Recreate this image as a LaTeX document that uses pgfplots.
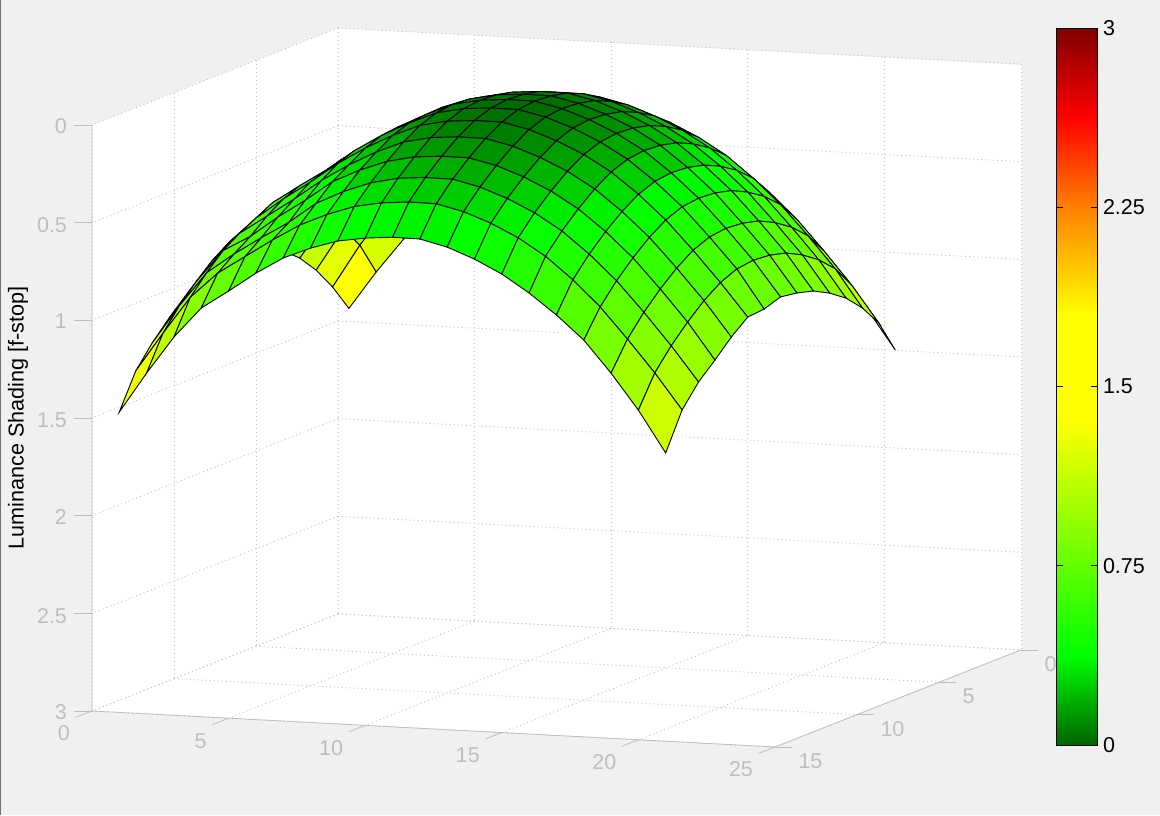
\documentclass[border=0pt]{standalone}
\usepackage{pgfplots}
\usepackage{fontspec}
\setmainfont{Liberation Sans}
\pgfplotsset{compat=1.18}
\definecolor{figbg}{RGB}{240,240,240}
\definecolor{axgray}{RGB}{190,190,190}
\pgfplotsset{colormap={shade}{rgb255(0)=(0,100,0); rgb255(375)=(0,255,0); rgb255(1350)=(255,255,0); rgb255(1800)=(255,255,0); rgb255(2250)=(255,128,0); rgb255(2625)=(255,0,0); rgb255(3000)=(128,0,0)}}
\pgfplotstableread[row sep=\\]{
x y z\\
1 1 1.395\\ 2 1 1.201\\ 3 1 1.026\\ 4 1 .881\\ 5 1 .785\\ 6 1 .696\\ 7 1 .608\\ 8 1 .538\\ 9 1 .483\\ 10 1 .452\\ 11 1 .440\\ 12 1 .442\\ 13 1 .475\\ 14 1 .529\\ 15 1 .597\\ 16 1 .686\\ 17 1 .801\\ 18 1 .935\\ 19 1 1.095\\ 20 1 1.265\\ 21 1 1.461\\
1 2 1.252\\ 2 2 1.030\\ 3 2 .845\\ 4 2 .757\\ 5 2 .665\\ 6 2 .569\\ 7 2 .464\\ 8 2 .395\\ 9 2 .342\\ 10 2 .312\\ 11 2 .300\\ 12 2 .302\\ 13 2 .334\\ 14 2 .386\\ 15 2 .453\\ 16 2 .539\\ 17 2 .651\\ 18 2 .781\\ 19 2 .937\\ 20 2 1.102\\ 21 2 1.290\\
1 3 1.133\\ 2 3 .914\\ 3 3 .732\\ 4 3 .648\\ 5 3 .558\\ 6 3 .464\\ 7 3 .361\\ 8 3 .293\\ 9 3 .241\\ 10 3 .211\\ 11 3 .200\\ 12 3 .201\\ 13 3 .233\\ 14 3 .284\\ 15 3 .350\\ 16 3 .434\\ 17 3 .544\\ 18 3 .672\\ 19 3 .824\\ 20 3 .986\\ 21 3 1.180\\
1 4 1.038\\ 2 4 .835\\ 3 4 .676\\ 4 4 .573\\ 5 4 .485\\ 6 4 .393\\ 7 4 .291\\ 8 4 .224\\ 9 4 .173\\ 10 4 .143\\ 11 4 .132\\ 12 4 .133\\ 13 4 .165\\ 14 4 .215\\ 15 4 .280\\ 16 4 .363\\ 17 4 .471\\ 18 4 .597\\ 19 4 .747\\ 20 4 .907\\ 21 4 1.096\\
1 5 .968\\ 2 5 .777\\ 3 5 .620\\ 4 5 .518\\ 5 5 .431\\ 6 5 .340\\ 7 5 .239\\ 8 5 .173\\ 9 5 .122\\ 10 5 .093\\ 11 5 .082\\ 12 5 .083\\ 13 5 .114\\ 14 5 .164\\ 15 5 .228\\ 16 5 .310\\ 17 5 .417\\ 18 5 .542\\ 19 5 .691\\ 20 5 .849\\ 21 5 1.037\\
1 6 .924\\ 2 6 .734\\ 3 6 .578\\ 4 6 .477\\ 5 6 .392\\ 6 6 .301\\ 7 6 .215\\ 8 6 .135\\ 9 6 .085\\ 10 6 .056\\ 11 6 .045\\ 12 6 .046\\ 13 6 .077\\ 14 6 .126\\ 15 6 .190\\ 16 6 .271\\ 17 6 .378\\ 18 6 .501\\ 19 6 .649\\ 20 6 .806\\ 21 6 .993\\
1 7 .901\\ 2 7 .712\\ 3 7 .557\\ 4 7 .457\\ 5 7 .371\\ 6 7 .281\\ 7 7 .195\\ 8 7 .116\\ 9 7 .066\\ 10 7 .037\\ 11 7 .026\\ 12 7 .027\\ 13 7 .058\\ 14 7 .107\\ 15 7 .170\\ 16 7 .251\\ 17 7 .357\\ 18 7 .480\\ 19 7 .628\\ 20 7 .784\\ 21 7 .970\\
1 8 .894\\ 2 8 .705\\ 3 8 .560\\ 4 8 .470\\ 5 8 .365\\ 6 8 .275\\ 7 8 .190\\ 8 8 .120\\ 9 8 .060\\ 10 8 .031\\ 11 8 .020\\ 12 8 .021\\ 13 8 .052\\ 14 8 .101\\ 15 8 .164\\ 16 8 .245\\ 17 8 .351\\ 18 8 .474\\ 19 8 .621\\ 20 8 .777\\ 21 8 .957\\
1 9 .905\\ 2 9 .716\\ 3 9 .575\\ 4 9 .480\\ 5 9 .390\\ 6 9 .286\\ 7 9 .200\\ 8 9 .130\\ 9 9 .070\\ 10 9 .041\\ 11 9 .030\\ 12 9 .031\\ 13 9 .062\\ 14 9 .111\\ 15 9 .175\\ 16 9 .256\\ 17 9 .362\\ 18 9 .485\\ 19 9 .632\\ 20 9 .788\\ 21 9 .986\\
1 10 .943\\ 2 10 .753\\ 3 10 .620\\ 4 10 .515\\ 5 10 .420\\ 6 10 .318\\ 7 10 .232\\ 8 10 .160\\ 9 10 .101\\ 10 10 .072\\ 11 10 .061\\ 12 10 .062\\ 13 10 .093\\ 14 10 .143\\ 15 10 .206\\ 16 10 .288\\ 17 10 .395\\ 18 10 .519\\ 19 10 .667\\ 20 10 .825\\ 21 10 .994\\
1 11 1.004\\ 2 11 .812\\ 3 11 .665\\ 4 11 .570\\ 5 11 .475\\ 6 11 .372\\ 7 11 .285\\ 8 11 .212\\ 9 11 .153\\ 10 11 .123\\ 11 11 .112\\ 12 11 .113\\ 13 11 .145\\ 14 11 .195\\ 15 11 .259\\ 16 11 .342\\ 17 11 .450\\ 18 11 .575\\ 19 11 .725\\ 20 11 .884\\ 21 11 1.063\\
1 12 1.084\\ 2 12 .889\\ 3 12 .720\\ 4 12 .640\\ 5 12 .534\\ 6 12 .441\\ 7 12 .338\\ 8 12 .271\\ 9 12 .219\\ 10 12 .189\\ 11 12 .178\\ 12 12 .179\\ 13 12 .211\\ 14 12 .262\\ 15 12 .327\\ 16 12 .411\\ 17 12 .520\\ 18 12 .647\\ 19 12 .799\\ 20 12 .961\\ 21 12 1.148\\
1 13 1.175\\ 2 13 .977\\ 3 13 .800\\ 4 13 .697\\ 5 13 .606\\ 6 13 .521\\ 7 13 .416\\ 8 13 .348\\ 9 13 .296\\ 10 13 .265\\ 11 13 .254\\ 12 13 .255\\ 13 13 .288\\ 14 13 .339\\ 15 13 .405\\ 16 13 .491\\ 17 13 .602\\ 18 13 .731\\ 19 13 .885\\ 20 13 1.049\\ 21 13 1.227\\
1 14 1.285\\ 2 14 1.084\\ 3 14 .893\\ 4 14 .762\\ 5 14 .670\\ 6 14 .578\\ 7 14 .494\\ 8 14 .432\\ 9 14 .384\\ 10 14 .358\\ 11 14 .346\\ 12 14 .348\\ 13 14 .381\\ 14 14 .433\\ 15 14 .500\\ 16 14 .587\\ 17 14 .700\\ 18 14 .832\\ 19 14 .989\\ 20 14 1.155\\ 21 14 1.337\\
1 15 1.462\\ 2 15 1.255\\ 3 15 1.063\\ 4 15 .907\\ 5 15 .813\\ 6 15 .714\\ 7 15 .629\\ 8 15 .571\\ 9 15 .527\\ 10 15 .505\\ 11 15 .493\\ 12 15 .495\\ 13 15 .529\\ 14 15 .583\\ 15 15 .652\\ 16 15 .742\\ 17 15 .847\\ 18 15 .968\\ 19 15 1.130\\ 20 15 1.312\\ 21 15 1.524\\
}\shading
\begin{document}
\begin{tikzpicture}
\useasboundingbox (0pt,0pt) rectangle (1160pt,-815pt);
\fill[figbg] (0pt,0pt) rectangle (1160pt,-815pt);
\fill[black!55] (0pt,0pt) rectangle (1.2pt,-815pt);
\fill[white] (92pt,-125pt) -- (338pt,-28pt) -- (1022pt,-65pt) -- (1022pt,-650pt) -- (775pt,-747pt) -- (92pt,-711pt) -- cycle;
\begin{axis}[
  at={(338pt,-28pt)}, anchor=origin,
  x={(27.32pt,-1.44pt)}, y={(-16.4pt,-6.47pt)}, z={(0pt,-195.3pt)},
  xmin=0, xmax=25, ymin=0, ymax=15, zmin=0, zmax=3,
  xtick={0,5,...,25}, ytick={0,5,...,15}, ztick={0,0.5,...,3},
  zticklabels={0,0.5,1,1.5,2,2.5,3},
  grid=major,
  grid style={axgray, dash pattern=on 1pt off 3pt, line width=0.8pt},
  axis line style={draw=none},
  tick style={draw=none},
  tick align=outside,
  major tick length=7pt,
  ticklabel style={text=axgray, font=\fontsize{21.5}{21.5}\selectfont},
  xticklabel style={anchor=east, xshift=-12pt, yshift=-20pt},
  yticklabel style={anchor=west, xshift=13pt, yshift=-14pt},
  zticklabel style={xshift=-15pt, yshift=3pt},
  /pgf/number format/assume math mode=true,
  zlabel={Luminance Shading [f-stop]},
  zlabel style={at={(axis cs:0,15,1.5)}, anchor=center, yshift=74pt, font=\fontsize{21.6}{21.6}\selectfont},
  clip=false,
  colormap name=shade,
  point meta min=0, point meta max=3,
]
\addplot3[surf, shader=flat corner, draw=black, line width=0.9pt, z buffer=none, mesh/cols=21] table[x=x, y=y, z=z] {\shading};
\draw[axgray, line width=0.8pt] (axis cs:0,15,0) -- (axis cs:0,15,3) -- (axis cs:25,15,3) -- (axis cs:25,0,3);
\pgfplotsinvokeforeach{0,5,...,25}{\draw[axgray, line width=0.8pt] (axis cs:#1,15,3) -- (axis cs:#1,16,3);}
\pgfplotsinvokeforeach{0,5,...,15}{\draw[axgray, line width=0.8pt] (axis cs:25,#1,3) -- ++(17pt,0pt);}
\pgfplotsinvokeforeach{0,0.5,...,3}{\draw[axgray, line width=0.8pt] (axis cs:0,15,#1) -- ++(-18pt,0pt);}
\end{axis}
\begin{axis}[
  at={(1056pt,-745pt)}, anchor=south west,
  scale only axis, width=41.5pt, height=717pt,
  view={0}{90},
  xmin=0, xmax=1, ymin=0, ymax=3,
  xtick=\empty,
  ytick={0,0.75,1.5,2.25,3}, yticklabels={0,0.75,1.5,2.25,3},
  yticklabel pos=right,
  tick align=inside, major tick length=7pt,
  tick style={draw=black, line width=0.7pt},
  axis line style={draw=black, line width=0.9pt},
  ticklabel style={text=black, font=\fontsize{21.5}{21.5}\selectfont},
  yticklabel style={xshift=2pt},
  /pgf/number format/assume math mode=true,
  axis on top,
  colormap name=shade,
  point meta min=0, point meta max=3,
]
\addplot3[surf, shader=interp, point meta=y, mesh/cols=2] coordinates {(0,0,0) (1,0,0) (0,3,0) (1,3,0)};
\end{axis}
\end{tikzpicture}
\end{document}
